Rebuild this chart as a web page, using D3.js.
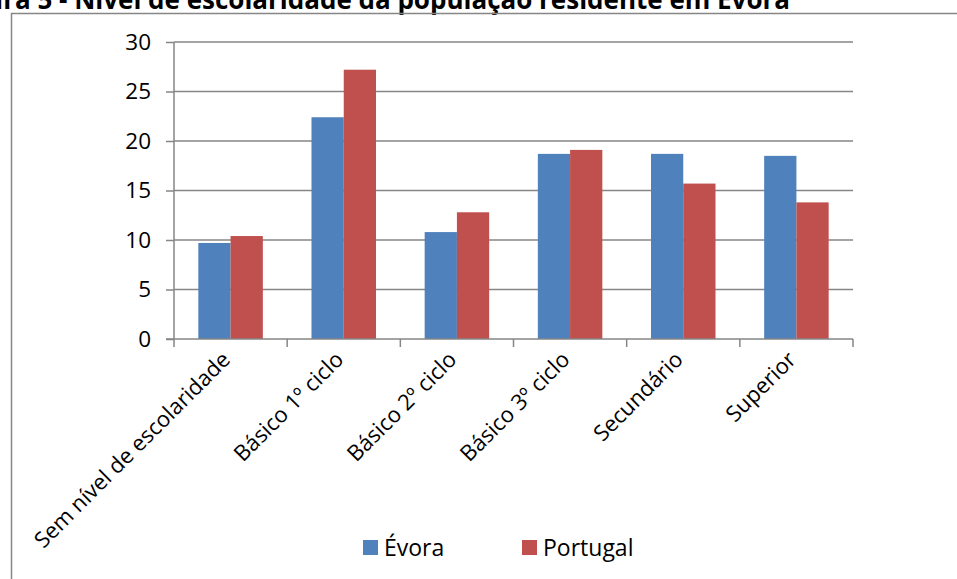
<!DOCTYPE html>
<html>
<head>
<meta charset="utf-8">
<script src="https://cdn.jsdelivr.net/npm/d3@7"></script>
<style>
  html, body { margin: 0; padding: 0; background: #fff; }
  svg { display: block; font-family: "Open Sans", "Noto Sans", sans-serif; }
</style>
</head>
<body>
<svg id="chart" width="957" height="579"></svg>
<script>
// Nível de escolaridade da população residente (%)
const categories = [
  "Sem nível de escolaridade",
  "Básico 1º ciclo",
  "Básico 2º ciclo",
  "Básico 3º ciclo",
  "Secundário",
  "Superior"
];
const seriesNames = ["Évora", "Portugal"];
const evora = [9.7, 22.4, 10.8, 18.7, 18.7, 18.5];
const portugal = [10.4, 27.2, 12.8, 19.1, 15.7, 13.8];
const yTicks = [0, 5, 10, 15, 20, 25, 30];
const titleText = "Figura 5 - Nível de escolaridade da população residente em Évora";

const colors = { "Évora": "#4F81BD", "Portugal": "#C0504D" };
const gridColor = "#868686";

const svg = d3.select("#chart");

// title (runs off the top edge of the page)
svg.append("text")
  .attr("x", 790).attr("y", 9)
  .attr("text-anchor", "end")
  .attr("font-weight", "bold")
  .attr("font-size", 26)
  .attr("fill", "#000")
  .text(titleText);

// chart frame
svg.append("rect")
  .attr("x", 11.5).attr("y", 13.5)
  .attr("width", 1200).attr("height", 1200)
  .attr("fill", "none")
  .attr("stroke", gridColor)
  .attr("stroke-width", 1.5);

const plot = { left: 174, right: 853, top: 42, bottom: 339 };

const x = d3.scaleBand()
  .domain(categories)
  .range([plot.left, plot.right])
  .paddingInner(0.43)
  .paddingOuter(0.215);

const xs = d3.scaleBand()
  .domain(seriesNames)
  .range([0, x.bandwidth()]);

const y = d3.scaleLinear()
  .domain([0, 30])
  .range([plot.bottom, plot.top]);

// horizontal gridlines
svg.append("g")
  .selectAll("line")
  .data(yTicks.filter(d => d > 0))
  .join("line")
  .attr("x1", plot.left).attr("x2", plot.right)
  .attr("y1", d => y(d)).attr("y2", d => y(d))
  .attr("stroke", gridColor)
  .attr("stroke-width", 1.5);

// bars
const rows = categories.map((c, i) => ({ cat: c, values: [
  { name: "Évora", value: evora[i] },
  { name: "Portugal", value: portugal[i] }
]}));

svg.append("g")
  .selectAll("g")
  .data(rows)
  .join("g")
  .attr("transform", d => `translate(${x(d.cat)},0)`)
  .selectAll("rect")
  .data(d => d.values)
  .join("rect")
  .attr("x", d => xs(d.name))
  .attr("width", xs.bandwidth())
  .attr("y", d => y(d.value))
  .attr("height", d => y(0) - y(d.value))
  .attr("fill", d => colors[d.name]);

// y axis
const yAxis = svg.append("g")
  .attr("transform", `translate(${plot.left},0)`)
  .call(d3.axisLeft(y).tickValues(yTicks).tickSize(8).tickPadding(15));
yAxis.selectAll("path, line").attr("stroke", gridColor).attr("stroke-width", 1.5);
yAxis.select(".domain").attr("d", `M0,${plot.top}V${plot.bottom}`);
yAxis.selectAll("text")
  .attr("font-size", 22.5)
  .attr("font-family", "'Open Sans', sans-serif")
  .attr("fill", "#000");

// x axis: ticks at category boundaries
const boundaries = d3.range(categories.length + 1).map(i => plot.left + i * (plot.right - plot.left) / categories.length);
const xAxisG = svg.append("g");
xAxisG.append("line")
  .attr("x1", plot.left - 8).attr("x2", plot.right)
  .attr("y1", plot.bottom).attr("y2", plot.bottom)
  .attr("stroke", gridColor).attr("stroke-width", 1.5);
xAxisG.selectAll("line.tick")
  .data(boundaries)
  .join("line")
  .attr("class", "tick")
  .attr("x1", d => d).attr("x2", d => d)
  .attr("y1", plot.bottom).attr("y2", plot.bottom + 8)
  .attr("stroke", gridColor).attr("stroke-width", 1.5);

// rotated category labels
xAxisG.selectAll("text")
  .data(categories)
  .join("text")
  .attr("transform", d => `translate(${x(d) + x.bandwidth() / 2 + 1},${plot.bottom + 22}) rotate(-45)`)
  .attr("text-anchor", "end")
  .attr("font-size", 22)
  .attr("fill", "#000")
  .text(d => d);

// legend
const legend = svg.append("g");
const legendX = [363, 522];
seriesNames.forEach((name, i) => {
  legend.append("rect")
    .attr("x", legendX[i]).attr("y", 540)
    .attr("width", 15).attr("height", 15)
    .attr("fill", colors[name]);
  legend.append("text")
    .attr("x", legendX[i] + 21).attr("y", 556)
    .attr("font-size", 23)
    .attr("fill", "#000")
    .text(name);
});
</script>
</body>
</html>
